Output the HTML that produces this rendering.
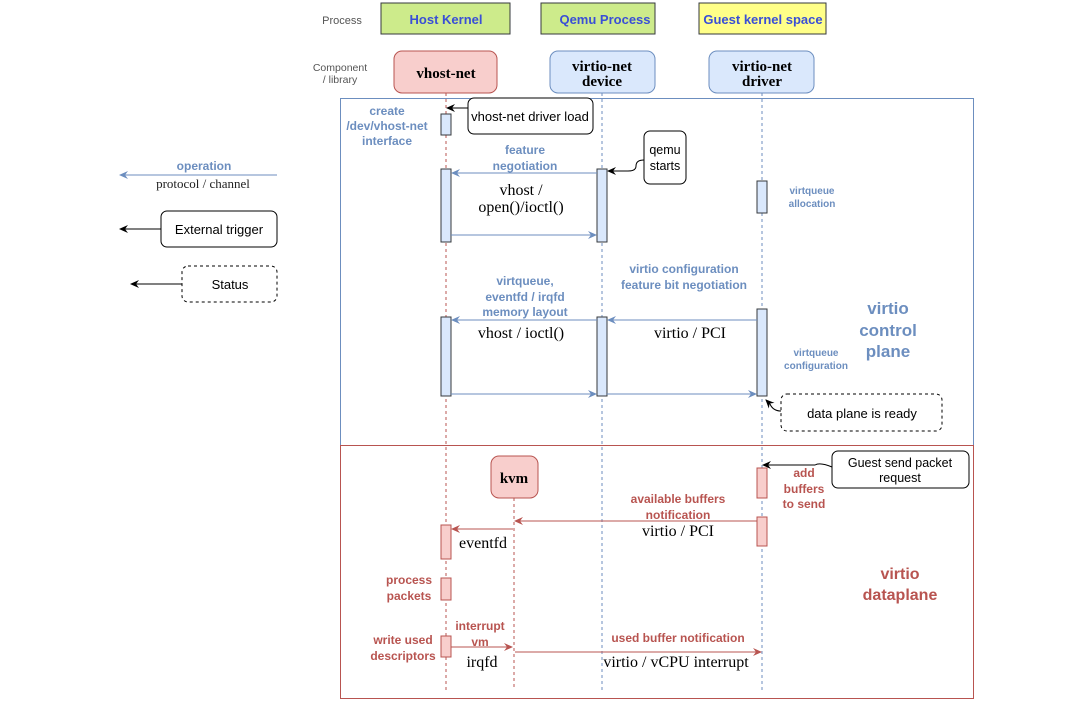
<!DOCTYPE html>
<html><head><meta charset="utf-8"><style>
html,body{margin:0;padding:0;background:#fff;width:1080px;height:706px;overflow:hidden}
svg{display:block}
.s{font-family:"Liberation Sans",sans-serif}
.r{font-family:"Liberation Serif",serif}
.b{fill:#6c8ebf;font-weight:bold;font-size:12px}
.rd{fill:#b85450;font-weight:bold;font-size:12px}
</style></head><body>
<svg width="1080" height="706" viewBox="0 0 1080 706" class="s">
<defs>
<marker id="ab" markerWidth="10" markerHeight="10" refX="8" refY="4" orient="auto" markerUnits="userSpaceOnUse"><path d="M0,0 L9,4 L0,8 L3,4z" fill="#6c8ebf"/></marker>
<marker id="ar" markerWidth="10" markerHeight="10" refX="8" refY="4" orient="auto" markerUnits="userSpaceOnUse"><path d="M0,0 L9,4 L0,8 L3,4z" fill="#b85450"/></marker>
<marker id="ak" markerWidth="10" markerHeight="10" refX="8" refY="4" orient="auto" markerUnits="userSpaceOnUse"><path d="M0,0 L9,4 L0,8 L3,4z" fill="#000"/></marker>
</defs>
<!-- header -->
<text x="342" y="24" font-size="11" fill="#555" text-anchor="middle">Process</text>
<rect x="381" y="3" width="129" height="31" fill="#cdeb8b" stroke="#36393d"/>
<text x="446" y="24" font-size="13" font-weight="bold" fill="#3a4fd6" text-anchor="middle">Host Kernel</text>
<rect x="541" y="3" width="114" height="31" fill="#cdeb8b" stroke="#36393d"/>
<text x="605" y="24" font-size="13" font-weight="bold" fill="#3a4fd6" text-anchor="middle">Qemu Process</text>
<rect x="699" y="3" width="127" height="31" fill="#ffff88" stroke="#36393d"/>
<text x="763" y="24" font-size="13" font-weight="bold" fill="#3a4fd6" text-anchor="middle">Guest kernel space</text>
<text x="340" y="71" font-size="10.5" fill="#555" text-anchor="middle">Component</text>
<text x="340" y="83" font-size="10.5" fill="#555" text-anchor="middle">/ library</text>
<rect x="394" y="51" width="103" height="42" rx="8" fill="#f8cecc" stroke="#b85450"/>
<text x="446" y="78" class="r" font-size="15" font-weight="bold" text-anchor="middle">vhost-net</text>
<rect x="550" y="51" width="105" height="42" rx="8" fill="#dae8fc" stroke="#6c8ebf"/>
<text x="602" y="71" class="r" font-size="15" font-weight="bold" text-anchor="middle">virtio-net</text>
<text x="602" y="86" class="r" font-size="15" font-weight="bold" text-anchor="middle">device</text>
<rect x="709" y="51" width="105" height="42" rx="8" fill="#dae8fc" stroke="#6c8ebf"/>
<text x="762" y="71" class="r" font-size="15" font-weight="bold" text-anchor="middle">virtio-net</text>
<text x="762" y="86" class="r" font-size="15" font-weight="bold" text-anchor="middle">driver</text>
<!-- frames -->
<rect x="340.5" y="98.5" width="633" height="347" fill="none" stroke="#6c8ebf"/>
<rect x="340.5" y="445.5" width="633" height="253" fill="none" stroke="#b85450"/>
<!-- lifelines -->
<line x1="446" y1="93" x2="446" y2="690" stroke="#b85450" stroke-dasharray="3,3"/>
<line x1="602" y1="93" x2="602" y2="690" stroke="#6c8ebf" stroke-dasharray="3,3"/>
<line x1="762" y1="93" x2="762" y2="690" stroke="#6c8ebf" stroke-dasharray="3,3"/>
<line x1="514" y1="498" x2="514" y2="690" stroke="#b85450" stroke-dasharray="3,3"/>
<!-- legend -->
<line x1="277" y1="175" x2="120" y2="175" stroke="#6c8ebf" marker-end="url(#ab)"/>
<text x="204" y="170" class="b" text-anchor="middle">operation</text>
<text x="203" y="188" class="r" font-size="13" fill="#222" text-anchor="middle">protocol / channel</text>
<rect x="161" y="211" width="116" height="36" rx="6" fill="#fff" stroke="#000"/>
<text x="219" y="234" font-size="13" text-anchor="middle">External trigger</text>
<line x1="161" y1="229" x2="120" y2="229" stroke="#000" marker-end="url(#ak)"/>
<rect x="182" y="266" width="95" height="36" rx="6" fill="#fff" stroke="#000" stroke-dasharray="3,3"/>
<text x="230" y="289" font-size="13" text-anchor="middle">Status</text>
<line x1="182" y1="284" x2="131" y2="284" stroke="#000" marker-end="url(#ak)"/>
<!-- control plane -->
<text x="387" y="115" class="b" text-anchor="middle">create</text>
<text x="387" y="130" class="b" text-anchor="middle">/dev/vhost-net</text>
<text x="387" y="145" class="b" text-anchor="middle">interface</text>
<rect x="441" y="114" width="10" height="21" fill="#dae8fc" stroke="#36393d"/>
<rect x="468" y="98" width="125" height="36" rx="6" fill="#fff" stroke="#000"/>
<text x="530" y="121" font-size="13" text-anchor="middle">vhost-net driver load</text>
<path d="M468,108 L460,108 Q458,108 447,108" fill="none" stroke="#000" marker-end="url(#ak)"/>
<rect x="644" y="131" width="42" height="53" rx="6" fill="#fff" stroke="#000"/>
<text x="665" y="154" font-size="12.5" text-anchor="middle">qemu</text>
<text x="665" y="170" font-size="12.5" text-anchor="middle">starts</text>
<path d="M644,160 Q636,160 636,166 Q636,171 628,171 L608,171" fill="none" stroke="#000" marker-end="url(#ak)"/>
<text x="525" y="154" class="b" text-anchor="middle">feature</text>
<text x="525" y="170" class="b" text-anchor="middle">negotiation</text>
<rect x="441" y="169" width="10" height="73" fill="#dae8fc" stroke="#36393d"/>
<rect x="597" y="169" width="10" height="73" fill="#dae8fc" stroke="#36393d"/>
<line x1="597" y1="173" x2="452" y2="173" stroke="#6c8ebf" marker-end="url(#ab)"/>
<text x="521" y="195" class="r" font-size="16" text-anchor="middle">vhost /</text>
<text x="521" y="212" class="r" font-size="16" text-anchor="middle">open()/ioctl()</text>
<line x1="451" y1="235" x2="596" y2="235" stroke="#6c8ebf" marker-end="url(#ab)"/>
<rect x="757" y="181" width="10" height="32" fill="#dae8fc" stroke="#36393d"/>
<text x="812" y="194" fill="#6c8ebf" font-size="10" font-weight="bold" text-anchor="middle">virtqueue</text>
<text x="812" y="207" fill="#6c8ebf" font-size="10" font-weight="bold" text-anchor="middle">allocation</text>
<text x="525" y="285" class="b" text-anchor="middle">virtqueue,</text>
<text x="525" y="301" class="b" text-anchor="middle">eventfd / irqfd</text>
<text x="525" y="316" class="b" text-anchor="middle">memory layout</text>
<text x="684" y="273" class="b" text-anchor="middle">virtio configuration</text>
<text x="684" y="289" class="b" text-anchor="middle">feature bit negotiation</text>
<rect x="441" y="317" width="10" height="79" fill="#dae8fc" stroke="#36393d"/>
<rect x="597" y="317" width="10" height="79" fill="#dae8fc" stroke="#36393d"/>
<rect x="757" y="309" width="10" height="87" fill="#dae8fc" stroke="#36393d"/>
<line x1="597" y1="320" x2="452" y2="320" stroke="#6c8ebf" marker-end="url(#ab)"/>
<line x1="757" y1="320" x2="608" y2="320" stroke="#6c8ebf" marker-end="url(#ab)"/>
<text x="521" y="338" class="r" font-size="16" text-anchor="middle">vhost / ioctl()</text>
<text x="690" y="338" class="r" font-size="16" text-anchor="middle">virtio / PCI</text>
<line x1="451" y1="394" x2="596" y2="394" stroke="#6c8ebf" marker-end="url(#ab)"/>
<line x1="607" y1="394" x2="756" y2="394" stroke="#6c8ebf" marker-end="url(#ab)"/>
<text x="816" y="356" fill="#6c8ebf" font-size="10" font-weight="bold" text-anchor="middle">virtqueue</text>
<text x="816" y="369" fill="#6c8ebf" font-size="10" font-weight="bold" text-anchor="middle">configuration</text>
<text x="888" y="314" fill="#6c8ebf" font-size="17" font-weight="bold" text-anchor="middle">virtio</text>
<text x="888" y="336" fill="#6c8ebf" font-size="17" font-weight="bold" text-anchor="middle">control</text>
<text x="888" y="357" fill="#6c8ebf" font-size="17" font-weight="bold" text-anchor="middle">plane</text>
<rect x="781" y="394" width="161" height="37" rx="6" fill="#fff" stroke="#000" stroke-dasharray="3,3"/>
<text x="862" y="418" font-size="13" text-anchor="middle">data plane is ready</text>
<path d="M781,411 Q773,411 770,404 L766,400" fill="none" stroke="#000" marker-end="url(#ak)"/>
<!-- data plane -->
<rect x="491" y="456" width="47" height="42" rx="8" fill="#f8cecc" stroke="#b85450"/>
<text x="514" y="483" class="r" font-size="15" font-weight="bold" text-anchor="middle">kvm</text>
<rect x="832" y="451" width="137" height="37" rx="6" fill="#fff" stroke="#000"/>
<text x="900" y="467" font-size="12.5" text-anchor="middle">Guest send packet</text>
<text x="900" y="482" font-size="12.5" text-anchor="middle">request</text>
<path d="M832,467 Q820,462 815,465 L763,465" fill="none" stroke="#000" marker-end="url(#ak)"/>
<rect x="757" y="468" width="10" height="30" fill="#f8cecc" stroke="#b85450"/>
<text x="804" y="477" class="rd" text-anchor="middle">add</text>
<text x="804" y="493" class="rd" text-anchor="middle">buffers</text>
<text x="804" y="508" class="rd" text-anchor="middle">to send</text>
<text x="678" y="503" class="rd" text-anchor="middle">available buffers</text>
<text x="678" y="519" class="rd" text-anchor="middle">notification</text>
<rect x="757" y="517" width="10" height="29" fill="#f8cecc" stroke="#b85450"/>
<line x1="757" y1="521" x2="515" y2="521" stroke="#b85450" marker-end="url(#ar)"/>
<text x="678" y="536" class="r" font-size="16" text-anchor="middle">virtio / PCI</text>
<rect x="441" y="525" width="10" height="34" fill="#f8cecc" stroke="#b85450"/>
<line x1="513" y1="529" x2="452" y2="529" stroke="#b85450" marker-end="url(#ar)"/>
<text x="483" y="548" class="r" font-size="16" text-anchor="middle">eventfd</text>
<rect x="441" y="578" width="10" height="22" fill="#f8cecc" stroke="#b85450"/>
<text x="409" y="584" class="rd" text-anchor="middle">process</text>
<text x="409" y="600" class="rd" text-anchor="middle">packets</text>
<text x="900" y="579" fill="#b85450" font-size="16" font-weight="bold" text-anchor="middle">virtio</text>
<text x="900" y="600" fill="#b85450" font-size="16" font-weight="bold" text-anchor="middle">dataplane</text>
<rect x="441" y="636" width="10" height="21" fill="#f8cecc" stroke="#b85450"/>
<text x="403" y="644" class="rd" text-anchor="middle">write used</text>
<text x="403" y="660" class="rd" text-anchor="middle">descriptors</text>
<text x="480" y="630" class="rd" text-anchor="middle">interrupt</text>
<text x="480" y="646" class="rd" text-anchor="middle">vm</text>
<line x1="451" y1="647" x2="512" y2="647" stroke="#b85450" marker-end="url(#ar)"/>
<text x="482" y="667" class="r" font-size="16" text-anchor="middle">irqfd</text>
<text x="678" y="642" class="rd" text-anchor="middle">used buffer notification</text>
<line x1="515" y1="652" x2="761" y2="652" stroke="#b85450" marker-end="url(#ar)"/>
<text x="676" y="667" class="r" font-size="16" text-anchor="middle">virtio / vCPU interrupt</text>
</svg>
</body></html>
